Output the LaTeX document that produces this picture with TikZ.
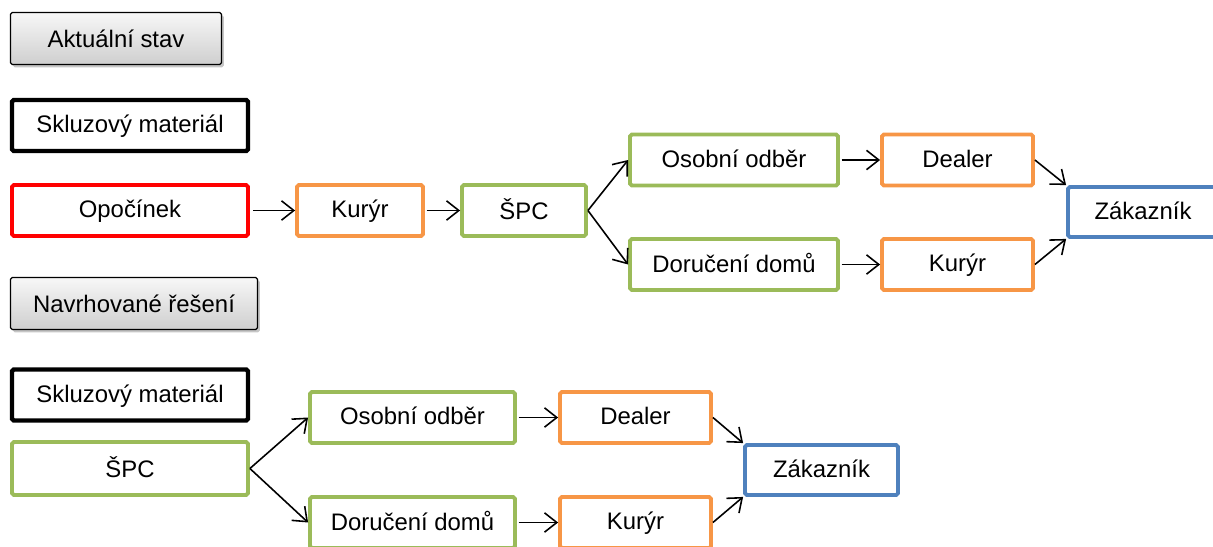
\documentclass[tikz,border=0pt]{standalone}
\usepackage{fontspec}
\setmainfont{Liberation Sans}
\usetikzlibrary{arrows.meta,shadows}
\definecolor{orange}{RGB}{247,150,70}
\definecolor{green}{RGB}{155,187,89}
\definecolor{blue}{RGB}{79,129,189}
\definecolor{red}{RGB}{255,0,0}

\begin{document}
\begin{tikzpicture}[x=0.02cm,y=-0.02cm,
    box/.style={draw,line width=2.2pt,rounded corners=1pt,fill=white,inner sep=0pt,
      text depth=0.3ex,font=\fontsize{13.6}{16}\selectfont},
    btn/.style={draw,line width=0.7pt,rounded corners=1pt,top color=gray!6,bottom color=gray!38,
      drop shadow={opacity=0.45,shadow xshift=1.4pt,shadow yshift=-1.6pt},inner sep=0pt,
      font=\fontsize{13.6}{16}\selectfont},
    arr/.style={-{Straight Barb[length=7pt,width=11pt]},line width=0.9pt}]
    \useasboundingbox (0,0) rectangle (1213,547);
    \node[btn,minimum width=4.22cm,minimum height=1.04cm] (akt) at (116,38.5){Aktuální stav};
    \node[box,draw=black,line width=2.5pt,minimum width=4.72cm,minimum height=1.02cm] (skl1) at (130,125.5){Skluzový materiál};
    \node[box,draw=red,minimum width=4.72cm,minimum height=1.02cm] (opo) at (130,210.5){Opočínek};
    \node[box,draw=orange,minimum width=2.52cm,minimum height=1.02cm] (kur1) at (360,210.5){Kurýr};
    \node[box,draw=green,minimum width=2.48cm,minimum height=1.02cm] (spc1) at (524,210.5){ŠPC};
    \node[box,draw=green,minimum width=4.16cm,minimum height=1.02cm] (oso1) at (734,160){Osobní odběr};
    \node[box,draw=green,minimum width=4.16cm,minimum height=1.02cm] (dor1) at (734,264.5){Doručení domů};
    \node[box,draw=orange,minimum width=3.02cm,minimum height=1.02cm] (dea1) at (957.5,160){Dealer};
    \node[box,draw=orange,minimum width=3.02cm,minimum height=1.02cm] (kur2) at (957.5,264.5){Kurýr};
    \node[box,draw=blue,minimum width=3.0cm,minimum height=1.0cm] (zak1) at (1143,212){Zákazník};
    \draw[arr,shorten <=2pt] (opo) -- (kur1);
    \draw[arr,shorten <=1pt] (kur1) -- (spc1);
    \draw[arr] (spc1.east) -- (oso1.west);
    \draw[arr] (spc1.east) -- (dor1.west);
    \draw[arr,shorten <=1pt] (oso1) -- (dea1);
    \draw[arr,shorten <=1pt] (dor1) -- (kur2);
    \draw[arr] (dea1.east) -- (zak1.north west);
    \draw[arr] (kur2.east) -- (zak1.south west);
    \node[btn,minimum width=4.94cm,minimum height=1.04cm] (nav) at (134,303.5){Navrhované řešení};
    \node[box,draw=black,line width=2.5pt,minimum width=4.72cm,minimum height=1.02cm] (skl2) at (130,395){Skluzový materiál};
    \node[box,draw=green,minimum width=4.72cm,minimum height=1.06cm] (spc2) at (130,468.5){ŠPC};
    \node[box,draw=green,minimum width=4.1cm,minimum height=1.02cm] (oso2) at (412.5,417.5){Osobní odběr};
    \node[box,draw=green,minimum width=4.1cm,minimum height=1.02cm] (dor2) at (412.5,522.5){Doručení domů};
    \node[box,draw=orange,minimum width=3.02cm,minimum height=1.02cm] (dea2) at (635.5,417.5){Dealer};
    \node[box,draw=orange,minimum width=3.02cm,minimum height=1.02cm] (kur3) at (635.5,522.5){Kurýr};
    \node[box,draw=blue,minimum width=3.06cm,minimum height=1.0cm] (zak2) at (821.5,470){Zákazník};
    \draw[arr] (spc2.east) -- (oso2.west);
    \draw[arr] (spc2.east) -- (dor2.west);
    \draw[arr,shorten <=1pt] (oso2) -- (dea2);
    \draw[arr,shorten <=1pt] (dor2) -- (kur3);
    \draw[arr] (dea2.east) -- (zak2.north west);
    \draw[arr] (kur3.east) -- (zak2.south west);
  \end{tikzpicture}
\end{document}
